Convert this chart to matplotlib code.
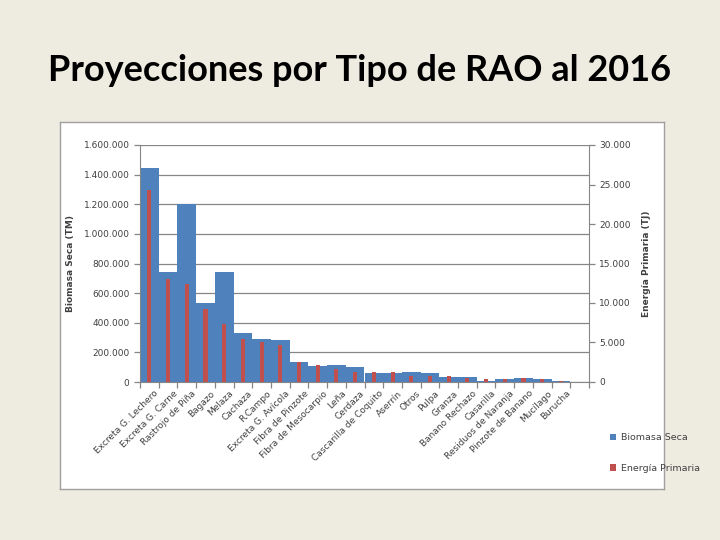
import numpy as np
import matplotlib
matplotlib.use("Agg")
from matplotlib import pyplot as plt
from matplotlib.ticker import FuncFormatter

categorias = ["Excreta G. Lechero", "Excreta G. Carne", "Rastrojo de Piña", "Bagazo",
              "Melaza", "Cachaza", "R.Campo", "Excreta G. Avícola", "Fibra de Pinzote",
              "Fibra de Mesocarpio", "Leña", "Cerdaza", "Cascarilla de Coquito", "Aserrín",
              "Otros", "Pulpa", "Granza", "Banano Rechazo", "Casarilla",
              "Residuos de Naranja", "Pinzote de Banano", "Mucílago", "Burucha", ""]

biomasa = [1444000, 740000, 1200000, 535000, 742000, 334000, 293000, 283000,
           132000, 108000, 114000, 103000, 59000, 61000, 66000, 59000,
           32000, 33000, 5000, 18000, 27000, 19000, 9000, 3000]

energia = [24300, 12990, 12350, 9300, 7280, 5500, 5080, 4680,
           2520, 2180, 1670, 1290, 1230, 1230, 800, 800,
           760, 450, 420, 350, 480, 350, 150, 40]

azul = "#4F81BD"
rojo = "#C0504D"
gris = "#868686"
texto = "#404040"

fig = plt.figure(figsize=(7.2, 5.4), dpi=100)
fig.patch.set_facecolor("#EEEBE1")

# marco blanco del grafico (ejes vacios detras)
marco = fig.add_axes([60 / 720, 1 - 489 / 540, 604 / 720, 367 / 540], zorder=-1)
marco.set_facecolor("white")
marco.set_xticks([])
marco.set_yticks([])
for s in marco.spines.values():
    s.set_color("#A0A0A0")
    s.set_linewidth(1)

fig.text(0.5, 0.87, "Proyecciones por Tipo de RAO al 2016", ha="center", va="center",
         fontsize=26, fontweight="bold", family="Lato", color="black")

ax = fig.add_axes([140 / 720, 1 - 382 / 540, 449 / 720, 237 / 540])
ax.set_facecolor("none")
x = np.arange(len(categorias))
b1 = ax.bar(x, biomasa, width=1.0, color=azul, zorder=2, label="Biomasa Seca")
ax.set_xlim(-0.5, len(categorias) - 0.5)
ax.set_ylim(0, 1600000)
ax.set_yticks(np.arange(0, 1600001, 200000))
ax.yaxis.set_major_formatter(FuncFormatter(lambda v, p: "{:,.0f}".format(v).replace(",", ".")))
ax.grid(axis="y", color=gris, linewidth=0.9, zorder=0)
ax.set_axisbelow(True)

ax2 = ax.twinx()
b2 = ax2.bar(x, energia, width=0.22, color=rojo, zorder=3, label="Energía Primaria")
ax2.set_ylim(0, 30000)
ax2.set_yticks(np.arange(0, 30001, 5000))
ax2.yaxis.set_major_formatter(FuncFormatter(lambda v, p: "{:,.0f}".format(v).replace(",", ".")))

for a in (ax, ax2):
    for s in a.spines.values():
        s.set_visible(False)
    a.tick_params(axis="y", labelsize=6.5, colors=gris, labelcolor=texto, length=4, width=0.9)
ax.spines["left"].set_visible(True)
ax.spines["left"].set_color(gris)
ax.spines["bottom"].set_visible(True)
ax.spines["bottom"].set_color(gris)
ax2.spines["right"].set_visible(True)
ax2.spines["right"].set_color(gris)

# marcas entre categorias, etiquetas en el centro
ax.set_xticks(np.arange(-0.5, len(categorias)), minor=False)
ax.set_xticklabels([])
ax.tick_params(axis="x", which="major", length=4, width=0.9, colors=gris)
ax.set_xticks(x + 0.25, minor=True)
ax.set_xticklabels(categorias, minor=True, rotation=45, ha="right",
                   rotation_mode="anchor", fontsize=6.5, color=texto)
ax.tick_params(axis="x", which="minor", length=0, pad=5)

ax.set_ylabel("Biomasa Seca (TM)", fontsize=6.5, fontweight="bold", color=texto, labelpad=6)
ax2.set_ylabel("Energía Primaria (TJ)", fontsize=6.5, fontweight="bold", color=texto, labelpad=8)

fig.legend([b1, b2], ["Biomasa Seca", "Energía Primaria"], loc="center left",
           bbox_to_anchor=(601 / 720, 1 - 453 / 540), frameon=False, fontsize=6.8,
           labelcolor=texto, handlelength=0.7, handleheight=0.7, handletextpad=0.5,
           labelspacing=2.3)

fig.savefig("out.png", dpi=100, facecolor=fig.get_facecolor())
